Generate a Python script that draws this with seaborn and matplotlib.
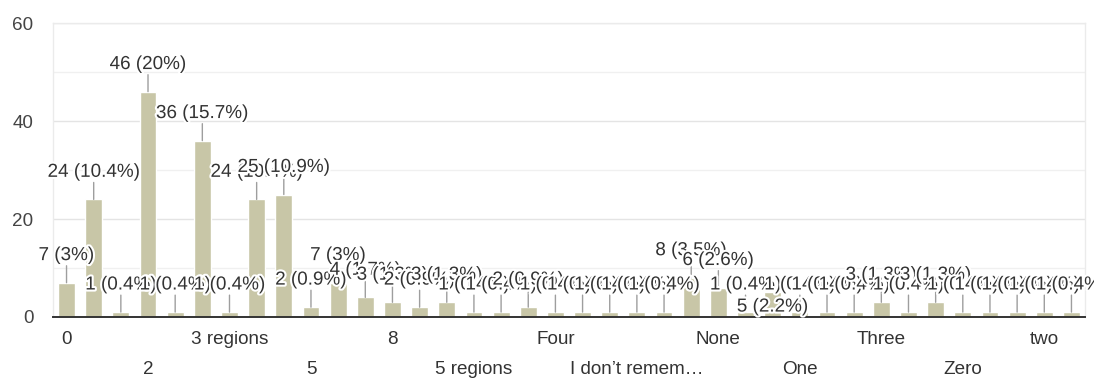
import matplotlib
matplotlib.use("Agg")
import matplotlib.pyplot as plt
import seaborn as sns
import pandas as pd
from matplotlib import patheffects as pe

# Survey answers (in chart order) and how many respondents gave each one
answers = [
    "0", "1", "1 region", "2", "2 regions", "3", "3 regions", "4", "6", "5",
    "7", "4 regions", "8", "9", "10", "5 regions", "12", "Five", "Four", "Six",
    "Seven", "I don’t remember", "Nine", "Many", "None", "Not sure", "one",
    "One", "One region", "Ten", "Three", "Three regions", "Two", "Zero",
    "four", "three", "two", "zero",
]
counts = [
    7, 24, 1, 46, 1, 36, 1, 24, 25, 2,
    7, 4, 3, 2, 3, 1, 1, 2, 1, 1,
    1, 1, 1, 8, 6, 1, 5, 1, 1, 1,
    3, 1, 3, 1, 1, 1, 1, 1,
]
y_ticks = [0, 20, 40, 60]
y_minor = [10, 30, 50]

BAR = "#c8c6a7"
TEXT = "#333333"

# labels pushed down into the bar when there is no room above (index -> pt)
label_drop = {26: -10.5}

sns.set_theme(style="white")
plt.rcParams["font.family"] = ["Liberation Sans", "DejaVu Sans"]

fig, ax = plt.subplots(figsize=(10.94, 3.78), dpi=100)
fig.subplots_adjust(left=0.0484, right=0.9918, top=0.939, bottom=0.1614)

df = pd.DataFrame({"answer": answers, "count": counts})
sns.barplot(data=df, x="answer", y="count", order=answers, color=BAR,
            saturation=1, width=0.62, ax=ax, zorder=2)

total = sum(counts)
halo = [pe.withStroke(linewidth=3, foreground="white")]
for i, v in enumerate(counts):
    pct = f"{100 * v / total:.1f}".rstrip("0").rstrip(".")
    dy = label_drop.get(i)
    if dy is None:
        # leader stem above each bar
        ax.annotate("", xy=(i, v), xytext=(0, 12.2), textcoords="offset points",
                    arrowprops=dict(arrowstyle="-", color="#9e9e9e", lw=1,
                                    shrinkA=0, shrinkB=0), zorder=3)
        dy = 19.5
    ax.annotate(f"{v} ({pct}%)", xy=(i, v), xytext=(0, dy),
                textcoords="offset points", ha="center", va="center",
                fontsize=13.6, color=TEXT, path_effects=halo, zorder=4)

ax.set_xlim(-0.5, len(answers) - 0.5)
ax.set_ylim(0, 60)
ax.set_yticks(y_ticks)
ax.set_yticks(y_minor, minor=True)
ax.grid(axis="y", which="major", color="#e4e4e4", lw=1, zorder=0)
ax.grid(axis="y", which="minor", color="#f0f0f0", lw=1, zorder=0)
ax.set_axisbelow(True)


def short(name, limit=14):
    return name if len(name) <= limit else name[:limit - 1] + "…"


shown = list(range(0, len(answers), 3))
ax.set_xticks(shown)
ax.set_xticklabels([short(answers[i]) for i in shown])
for k, tick in enumerate(ax.xaxis.get_major_ticks()):
    tick.set_pad(10 if k % 2 == 0 else 31.5)

ax.tick_params(axis="x", length=0, labelsize=13.6, labelcolor=TEXT)
ax.tick_params(axis="y", which="both", length=0, pad=14,
               labelsize=13.6, labelcolor="#444444")
ax.set_xlabel("")
ax.set_ylabel("")

for side in ("left", "right", "top"):
    ax.spines[side].set_color("#ebebeb")
    ax.spines[side].set_linewidth(1)
ax.spines["bottom"].set_color("#333333")
ax.spines["bottom"].set_linewidth(1.4)

fig.savefig("out.png", dpi=100, facecolor="white")
